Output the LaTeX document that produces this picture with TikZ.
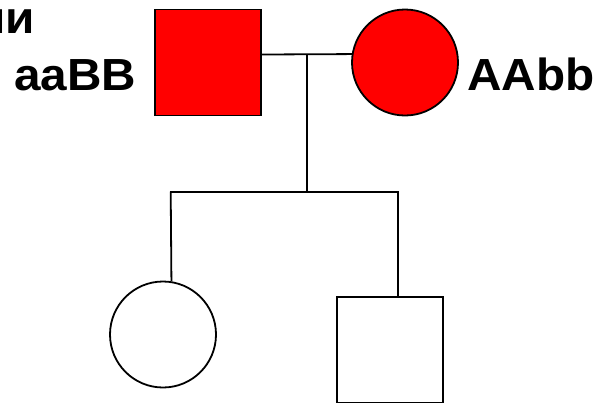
\documentclass[tikz,border=0pt]{standalone}
\usepackage{fontspec}
\setmainfont{Liberation Sans}
\begin{document}
\begin{tikzpicture}[x=1bp,y=-1bp,
  person/.style={draw=black,line width=1.8bp,minimum size=106bp,inner sep=0pt},
  male/.style={person,rectangle},
  female/.style={person,circle},
  affected/.style={fill=red},
  lbl/.style={inner sep=0pt,xscale=1.06,font=\fontsize{45bp}{50bp}\selectfont\bfseries},
  link/.style={line width=1.8bp}]
\useasboundingbox (0,0) rectangle (600,402);
% parents
\node[male,affected] (p1) at (208,62.5) {};
\node[female,affected] (p2) at (405,62.5) {};
% children
\node[female] (c1) at (163,334.5) {};
\node[male] (c2) at (389.7,349.7) {};
% labels
\node[lbl,anchor=base east] (t0) at (35,33) {ии};
\node[lbl,anchor=base west] (t1) at (14,90) {aaBB};
\node[lbl,anchor=base west] (t2) at (467,90) {AAbb};
% connectors
\coordinate (m) at (306.7,54.5);
\coordinate (s) at (306.7,191.7);
\coordinate (sl) at (170.7,191.7);
\coordinate (sr) at (397.7,191.7);
\draw[link] (p1.east |- m) -- (p2.171);
\draw[link] (m) -- (s);
\draw[link,line cap=rect] (sl) -- (sr);
\draw[link] (sl) -- (c1.81.6);
\draw[link] (sr) -- (c2.north -| sr);
\end{tikzpicture}
\end{document}
